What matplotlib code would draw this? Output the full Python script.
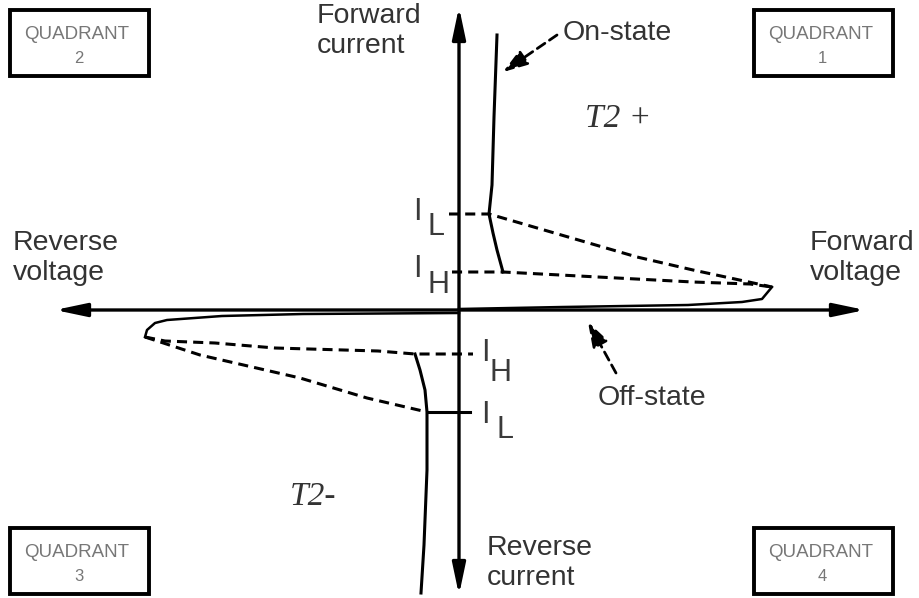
import matplotlib
matplotlib.use('Agg')
import matplotlib.pyplot as plt
from matplotlib.patches import Rectangle

plt.rcParams['font.family'] = ['Liberation Sans', 'DejaVu Sans']

## V-I characteristic, drawing units: voltage to the right, current up,
## origin where the two axes cross

# quadrant 1 (T2+)
on_pos_v = [38, 35, 33, 30, 34, 38, 44]
on_pos_i = [275, 193, 125, 96, 77, 60, 38]

off_pos_v = [0, 104, 229, 283, 303, 313]
off_pos_i = [1, 3, 5, 8, 11, 23]

latch_pos_v = [-10, 30, 178, 234, 313]
latch_pos_i = [96, 96, 53, 40, 23]

hold_pos_v = [-7, 44, 101, 234, 291, 313]
hold_pos_i = [38, 38, 35, 28, 26, 23]

# quadrant 3 (T2-)
on_neg_v = [-44, -39, -34, -32, -32, -35, -38]
on_neg_i = [-44, -60, -80, -102, -160, -235, -283]

off_neg_v = [0, -156, -237, -292, -304, -312, -314]
off_neg_i = [-3, -4, -6, -10, -13, -20, -27]

hold_neg_v = [-314, -294, -244, -184, -81, -44, 14]
hold_neg_i = [-27, -31, -33, -38, -41, -44, -44]

latch_neg_v = [-314, -259, -159, -92, -32]
latch_neg_i = [-27, -45, -68, -88, -102]
latch_tick_v = [-32, 11]

quadrants = ['1', '2', '3', '4']

fig = plt.figure(figsize=(9.2, 5.98), dpi=100)
ax = fig.add_axes([0, 0, 1, 1])
ax.set_xlim(-459, 461)
ax.set_ylim(-288, 310)
ax.axis('off')

dash = (0, (3.3, 2.0))
txt = '#333333'

# axes with arrow heads
head = '<|-|>, head_length=0.95, head_width=0.2'
ax.annotate('', xy=(406, 0), xytext=(-404, 0),
            arrowprops=dict(arrowstyle=head, mutation_scale=20, lw=2.4,
                            color='k', shrinkA=0, shrinkB=0))
ax.annotate('', xy=(0, 303), xytext=(0, -285),
            arrowprops=dict(arrowstyle=head, mutation_scale=20, lw=2.4,
                            color='k', shrinkA=0, shrinkB=0))

# curves
ax.plot(on_pos_v, on_pos_i, color='k', lw=2.2)
ax.plot(off_pos_v, off_pos_i, color='k', lw=1.8)
ax.plot(latch_pos_v, latch_pos_i, color='k', lw=2.2, linestyle=dash)
ax.plot(hold_pos_v, hold_pos_i, color='k', lw=2.2, linestyle=dash)

ax.plot(on_neg_v, on_neg_i, color='k', lw=2.2)
ax.plot(off_neg_v, off_neg_i, color='k', lw=1.8)
ax.plot(hold_neg_v, hold_neg_i, color='k', lw=2.2, linestyle=dash)
ax.plot(latch_neg_v, latch_neg_i, color='k', lw=2.2, linestyle=dash)
ax.plot(latch_tick_v, [latch_neg_i[-1]] * 2, color='k', lw=2.2)

# pointer arrows
ax.annotate('', xy=(44, 238), xytext=(98, 275),
            arrowprops=dict(arrowstyle='-|>, head_length=0.75, head_width=0.25',
                            mutation_scale=20, lw=2, color='k',
                            linestyle=dash, shrinkA=0, shrinkB=0))
ax.annotate('', xy=(129, -12), xytext=(157, -63),
            arrowprops=dict(arrowstyle='-|>, head_length=0.75, head_width=0.25',
                            mutation_scale=20, lw=2, color='k',
                            linestyle=dash, shrinkA=0, shrinkB=0))

# labels
big = 20.5
ax.text(-142, 307, 'Forward\ncurrent', fontsize=big, color=txt, va='top',
        linespacing=1.2)
ax.text(-446, 80, 'Reverse\nvoltage', fontsize=big, color=txt, va='top',
        linespacing=1.2)
ax.text(351, 80, 'Forward\nvoltage', fontsize=big, color=txt, va='top',
        linespacing=1.2)
ax.text(28, -225, 'Reverse\ncurrent', fontsize=big, color=txt, va='top',
        linespacing=1.2)
ax.text(104, 270, 'On-state', fontsize=big, color=txt, va='baseline')
ax.text(139, -95, 'Off-state', fontsize=big, color=txt, va='baseline')

ax.text(126, 183, 'T2 +', fontsize=24, color=txt, va='baseline',
        family='Liberation Serif', style='italic')
ax.text(-169, -195, 'T2-', fontsize=24, color=txt, va='baseline',
        family='Liberation Serif', style='italic')

sym = 22
for iv, ib, sv, sb, sub in [(-42, 90, -31, 75, 'L'), (-42, 33, -31, 17, 'H'),
                            (26, -51, 31, -71, 'H'), (26, -113, 38, -128, 'L')]:
    ax.text(iv, ib, 'I', fontsize=sym, color='#3a3a3a', ha='center', va='baseline')
    ax.text(sv, sb, sub, fontsize=sym, color='#3a3a3a', ha='left', va='baseline')

# quadrant boxes: left edge, top edge
box_pos = {'1': (295, 300), '2': (-449, 300), '3': (-449, -218), '4': (295, -218)}
for q in quadrants:
    x0, y0 = box_pos[q]
    w, h = 139, 66
    ax.add_patch(Rectangle((x0, y0 - h), w, h, fill=False, lw=2.8, ec='k'))
    cx = x0 + w / 2 - 3
    ax.text(cx, y0 - 29, 'QUADRANT', fontsize=13.5, color='#777777',
            ha='center', va='baseline')
    ax.text(cx + 2, y0 - 53, q, fontsize=12, color='#777777',
            ha='center', va='baseline')

fig.savefig('out.png', dpi=100)
